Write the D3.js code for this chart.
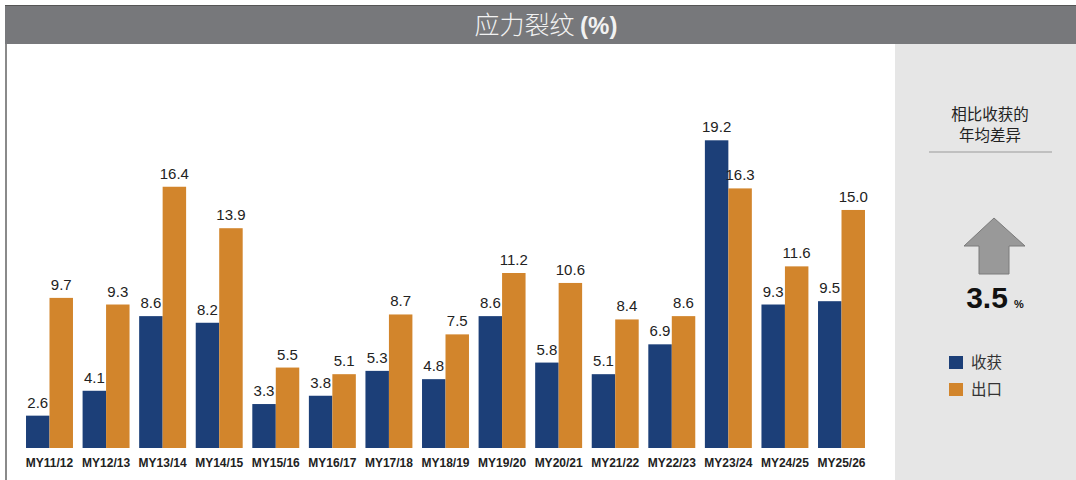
<!DOCTYPE html>
<html>
<head>
<meta charset="utf-8">
<script src="https://cdn.jsdelivr.net/npm/d3@7"></script>
<style>
  body { margin: 0; background: #fff; }
  svg { display: block; }
</style>
</head>
<body>
<div id="chart"></div>
<script>
// data
const categories = ["MY11/12","MY12/13","MY13/14","MY14/15","MY15/16","MY16/17","MY17/18","MY18/19","MY19/20","MY20/21","MY21/22","MY22/23","MY23/24","MY24/25","MY25/26"];
const harvest = [2.6, 4.1, 8.6, 8.2, 3.3, 3.8, 5.3, 4.8, 8.6, 5.8, 5.1, 6.9, 19.2, 9.3, 9.5];
const exportVals = [9.7, 9.3, 16.4, 13.9, 5.5, 5.1, 8.7, 7.5, 11.2, 10.6, 8.4, 8.6, 16.3, 11.6, 15.0];
const seriesNames = ["收获", "出口"];
const avgDiff = "3.5";
// the source chart's value axis does not start at zero
const axisMin = 0.65, axisMax = 19.2;

const width = 1076, height = 480;
const blue = "#1c3f78", orange = "#d2852c";
const baseY = 448;
const numFont = "'Liberation Sans Narrow', 'Arial Narrow', Arial, sans-serif";

const svg = d3.select("#chart").append("svg")
    .attr("width", width)
    .attr("height", height)
    .attr("viewBox", [0, 0, width, height])
    .style("font-family", "Arial, 'Liberation Sans', sans-serif");

// frame + title bar
svg.append("rect").attr("x", 5).attr("y", 5).attr("width", width - 5).attr("height", 39).attr("fill", "#77787b");
svg.append("line").attr("x1", 5).attr("x2", width).attr("y1", 5.5).attr("y2", 5.5).attr("stroke", "#555");
svg.append("rect").attr("x", 5).attr("y", 44).attr("width", 2).attr("height", height - 44).attr("fill", "#8a8a8a");
svg.append("rect").attr("x", 895).attr("y", 44).attr("width", width - 895).attr("height", height - 44).attr("fill", "#e6e6e6");

const title = svg.append("text")
    .attr("x", 546).attr("y", 34)
    .attr("text-anchor", "middle")
    .attr("fill", "#f2f2f2");
title.append("tspan").attr("font-family", "'Noto Sans CJK SC', sans-serif").attr("font-weight", 300).attr("font-size", 25).text("应力裂纹 ");
title.append("tspan").attr("font-family", numFont).attr("font-size", 24).attr("font-weight", "bold").text("(%)");

// scales
const x = d3.scaleBand()
    .domain(categories)
    .range([16.4, 874.6])
    .padding(0.17);

const x1 = d3.scaleBand()
    .domain([0, 1])
    .range([0, x.bandwidth()]);

const y = d3.scaleLinear()
    .domain([axisMin, axisMax])
    .range([baseY, 140.3]);

const rows = categories.map((c, i) => ({cat: c, vals: [harvest[i], exportVals[i]]}));

const groups = svg.append("g")
  .selectAll("g")
  .data(rows)
  .join("g")
    .attr("transform", d => `translate(${x(d.cat)},0)`);

groups.selectAll("rect")
  .data(d => d.vals.map((v, k) => ({k, v})))
  .join("rect")
    .attr("x", d => x1(d.k))
    .attr("y", d => y(d.v))
    .attr("width", x1.bandwidth())
    .attr("height", d => baseY - y(d.v))
    .attr("fill", d => d.k === 0 ? blue : orange);

groups.selectAll("text")
  .data(d => d.vals.map((v, k) => ({k, v})))
  .join("text")
    .attr("x", d => x1(d.k) + x1.bandwidth() / 2)
    .attr("y", d => y(d.v) - 8)
    .attr("text-anchor", "middle")
    .attr("font-family", numFont)
    .attr("font-size", 15)
    .attr("fill", "#222")
    .text(d => d.v.toFixed(1));

// x axis labels
svg.append("g")
    .attr("transform", `translate(0,${baseY})`)
    .call(d3.axisBottom(x).tickSize(0).tickPadding(10))
    .call(g => g.select(".domain").remove())
    .call(g => g.selectAll("text")
        .attr("font-size", 12)
        .attr("font-weight", "bold")
        .attr("font-family", "Arial, 'Liberation Sans', sans-serif")
        .attr("fill", "#222"));

// side panel
const side = svg.append("g").attr("font-family", "'Noto Sans CJK SC', sans-serif").attr("fill", "#222");
side.append("text").attr("x", 990).attr("y", 120).attr("text-anchor", "middle").attr("font-size", 15.5).text("相比收获的");
side.append("text").attr("x", 990).attr("y", 141).attr("text-anchor", "middle").attr("font-size", 15.5).text("年均差异");
svg.append("line").attr("x1", 929).attr("x2", 1052).attr("y1", 152).attr("y2", 152).attr("stroke", "#999").attr("stroke-width", 1.2);

svg.append("path")
    .attr("d", "M994,218 L1025,246 L1009,246 L1009,274 L979,274 L979,246 L964,246 Z")
    .attr("fill", "#999")
    .attr("stroke", "#7a7a7a")
    .attr("stroke-width", 1);

svg.append("text").attr("x", 987).attr("y", 308).attr("text-anchor", "middle")
    .attr("font-size", 30).attr("font-weight", "bold").attr("fill", "#111").text(avgDiff);
svg.append("text").attr("x", 1014).attr("y", 308).attr("font-size", 11).attr("font-weight", "bold").attr("fill", "#111").text("%");

const legend = svg.append("g")
  .selectAll("g")
  .data(seriesNames)
  .join("g")
    .attr("transform", (d, i) => `translate(949,${356 + i * 27})`);
legend.append("rect").attr("width", 14).attr("height", 13).attr("fill", (d, i) => i === 0 ? blue : orange);
legend.append("text").attr("x", 22).attr("y", 12).attr("font-size", 15.5)
    .attr("font-family", "'Noto Sans CJK SC', sans-serif").attr("fill", "#333").text(d => d);
</script>
</body>
</html>
